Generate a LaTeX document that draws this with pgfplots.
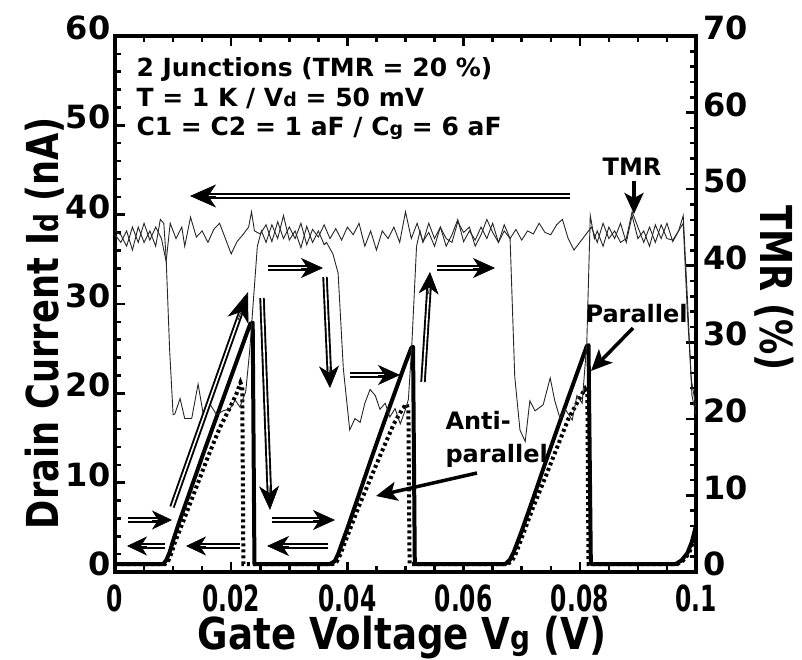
\documentclass[border=0pt]{standalone}
\usepackage{fontspec}
\setmainfont{DejaVu Sans}
\newfontfamily\condfont[FakeStretch=0.65]{DejaVu Sans}
\newfontfamily\labfontx[FakeStretch=0.845]{DejaVu Sans}
\newfontfamily\labfonty[FakeStretch=0.80]{DejaVu Sans}
\usepackage{pgfplots}
\pgfplotsset{compat=1.18}
\usetikzlibrary{arrows.meta,calc}

\tikzset{dbl/.style={draw=black,double=white,line width=1.9pt,double distance=1.6pt}}
% double arrow: #1 tail, #2 tip, #3 head length, #4 head width
\newcommand{\darrow}[4]{%
  \draw[dbl,shorten >=#3*0.6] #1 -- #2;
  \draw[line width=0.6pt,-{Stealth[length=#3,width=#4,inset=#3*0.3]}] ($#2!#3!#1$) -- #2;}
\newcommand{\sarrow}[2]{%
  \draw[line width=3.5pt,-{Stealth[length=21pt,width=19pt,inset=5pt]}] #1 -- #2;}

\pgfplotsset{box/.style={at={(115pt,95pt)}, anchor=south west, scale only axis,
  width=581pt, height=536pt, xmin=0, xmax=0.1, clip=false,
  /pgf/number format/assume math mode=true}}

\begin{document}
\begin{tikzpicture}
\path[use as bounding box] (0,0) rectangle (802pt,659pt);

% ---- frame with ticks (drawn 8px lower, as in the reference) ----
\begin{axis}[box, at={(115pt,87pt)}, ymin=0, ymax=60,
  axis line style={line width=4pt},
  every tick/.style={black,line width=2.5pt},
  major tick length=10pt, minor tick length=6pt,
  xtick={0,0.02,0.04,0.06,0.08,0.1},
  xticklabels={0,0.02,0.04,0.06,0.08,0.1},
  minor x tick num=3,
  ytick={0,10,20,30,40,50,60}, yticklabels={},
  minor y tick num=4,
  xtick pos=both, ytick pos=left,
  xticklabel style={font=\condfont\fontsize{36}{36}\selectfont\bfseries, yshift=-9pt},
]
\end{axis}
\begin{axis}[box, at={(115pt,87pt)}, ymin=0, ymax=70,
  axis x line=none, axis y line*=right,
  axis line style={line width=4pt,-},
  every tick/.style={black,line width=2.5pt},
  major tick length=10pt, minor tick length=6pt,
  ytick={0,10,20,30,40,50,60,70}, yticklabels={},
  minor y tick num=4,
]
\end{axis}

% ---- current data + left tick labels ----
\begin{axis}[box, ymin=0, ymax=60,
  axis line style={draw=none}, xtick=\empty,
  ytick={0,10,20,30,40,50,60},
  yticklabels={0,10,20,30,40,50,60},
  major tick length=0pt, ytick pos=left,
  yticklabel style={font=\fontsize{32}{32}\selectfont\bfseries, xshift=-1pt},
]
% Parallel
\addplot[black, line width=4pt, line join=round] coordinates {
(0,0)(0.0083,0)(0.0088,0.4)(0.0094,1.3)(0.0100,2.6)(0.0110,4.6)(0.0130,8.3)(0.0150,12.0)(0.0170,15.6)(0.0190,19.2)(0.0210,22.8)(0.0225,25.5)(0.0233,26.9)(0.0237,27.0)(0.0240,0)
(0.0370,0)(0.0378,0.3)(0.0384,1.1)(0.0390,2.2)(0.0400,4.0)(0.0420,7.8)(0.0440,11.6)(0.0460,15.3)(0.0480,18.9)(0.0500,22.5)(0.0510,24.2)(0.0513,24.3)(0.0516,0)
(0.0672,0)(0.0680,0.5)(0.0686,1.3)(0.0692,2.3)(0.0700,3.7)(0.0720,7.4)(0.0740,11.2)(0.0760,14.9)(0.0780,18.6)(0.0800,22.2)(0.0812,24.4)(0.0815,24.5)(0.0819,0)
(0.0965,0)(0.0975,0.4)(0.0985,1.2)(0.0993,2.5)(0.1,4.3)};
% Anti-parallel
\addplot[black, line width=4pt, dash pattern=on 3pt off 3pt] coordinates {
(0,0)(0.0086,0)(0.0092,0.4)(0.0097,1.2)(0.0103,2.4)(0.0120,5.2)(0.0140,8.6)(0.0160,12.0)(0.0180,15.2)(0.0200,17.8)(0.0210,19.2)(0.0216,20.3)(0.0219,19.8)(0.0221,0)
(0.0375,0)(0.0382,0.3)(0.0388,1.1)(0.0395,2.3)(0.0420,6.5)(0.0440,9.6)(0.0460,12.7)(0.0480,15.7)(0.0495,17.4)(0.0502,17.9)(0.0505,17.2)(0.0507,0)
(0.0675,0)(0.0683,0.3)(0.0690,1.2)(0.0697,2.4)(0.0720,6.4)(0.0740,9.6)(0.0760,12.9)(0.0780,16.2)(0.0800,18.6)(0.0809,19.6)(0.0813,19.1)(0.0815,0)
(0.0968,0)(0.0978,0.4)(0.0988,1.2)(0.1,3.5)};
\end{axis}

% ---- TMR data + right tick labels ----
\begin{axis}[box, ymin=0, ymax=70,
  axis x line=none, axis y line*=right,
  axis line style={draw=none},
  ytick={0,10,20,30,40,50,60,70},
  yticklabels={0,10,20,30,40,50,60,70},
  major tick length=0pt,
  yticklabel style={font=\fontsize{32}{32}\selectfont\bfseries, xshift=4pt},
]
\addplot[black!85, line width=0.9pt] coordinates {
(0,43)(0.001,42)(0.002,43.5)(0.003,41)(0.004,44)(0.005,42)(0.006,43.5)(0.007,41.5)(0.0078,45)(0.0084,44.5)(0.0088,40)(0.0094,28)(0.0100,19.5)(0.0103,19.6)(0.0112,21.6)(0.0120,19.0)(0.0132,19.0)(0.0143,23.5)(0.0152,19.5)(0.0164,20.8)(0.0175,19.5)(0.0186,20.0)(0.0198,20.3)(0.0207,21.4)(0.0215,20.5)(0.0225,22.5)(0.0232,28)(0.0245,41.5)(0.0252,43.5)
(0.026,42)(0.027,44.3)(0.028,42.5)(0.029,45.5)(0.030,42.3)(0.031,43.5)(0.032,41.3)(0.033,44.1)(0.034,42)(0.035,43.5)(0.036,41.7)(0.0364,42)(0.0375,40.5)(0.0384,38)(0.0393,25.5)(0.0404,17.5)(0.0413,19)(0.0422,18.5)(0.0430,21)(0.0439,22.8)(0.0448,22)(0.0456,20.2)(0.0465,21)(0.0473,19.2)(0.0482,20.3)(0.0491,18.3)(0.0500,20.2)(0.0505,21.5)(0.0511,28.8)(0.0519,41.5)(0.0525,43.5)
(0.053,42)(0.054,44.5)(0.055,42.5)(0.056,44)(0.057,41.5)(0.058,43)(0.059,45)(0.060,42.1)(0.061,43.5)(0.062,42.3)(0.063,44)(0.064,42.5)(0.065,44.5)(0.066,42)(0.067,43.5)(0.068,42.5)(0.0688,24.5)(0.0697,17.5)(0.0706,16)(0.0714,21.3)(0.0723,20)(0.0737,20.8)(0.0749,24.3)(0.0757,21.3)(0.0766,19)(0.0775,20.2)(0.0787,18.8)(0.0795,22)(0.0804,21)(0.0812,28.8)(0.0818,45.5)
(0.0825,42.5)(0.083,43.5)(0.084,41.5)(0.085,44)(0.086,42.5)(0.087,44.5)(0.088,42)(0.089,45.5)(0.090,42.5)(0.091,43.5)(0.092,41.5)(0.093,44.3)(0.094,42.5)(0.095,44.5)(0.096,42.1)(0.097,43.5)(0.0978,44.5)(0.0985,33)(0.0992,24)(0.1,20.5)};
\addplot[black!85, line width=0.9pt] coordinates {
(0,43.5)(0.001,43)(0.002,41.5)(0.003,44)(0.004,42)(0.005,44.5)(0.006,42.3)(0.007,44)(0.008,42.5)(0.0088,39.5)(0.0095,44.5)(0.0105,42.5)(0.0115,44)(0.012,41.5)(0.013,45.3)(0.014,42.7)(0.015,43.5)(0.016,42)(0.017,43.7)(0.018,44.5)(0.019,42.5)(0.020,40.5)(0.021,42.1)(0.022,43)(0.023,44)(0.0235,46)(0.024,43.5)(0.025,43.1)(0.026,44.3)(0.027,42.1)(0.028,44.7)(0.029,42.5)(0.030,44)(0.031,42.5)(0.032,44.5)(0.033,41.7)(0.034,43.7)(0.035,42.7)(0.036,44.3)(0.037,42.5)(0.038,43.8)(0.039,42.3)(0.040,44)(0.041,43)(0.042,44.5)(0.043,41.5)(0.044,43.5)(0.045,41)(0.046,43.5)(0.047,42.5)(0.048,44)(0.049,42)(0.050,46)(0.051,42.5)(0.052,44.5)(0.053,42.1)(0.054,43.3)(0.055,41.5)(0.056,44)(0.057,42.5)(0.058,42)(0.059,44.7)(0.060,43.3)(0.061,44)(0.062,41.5)(0.063,43)(0.064,45)(0.065,43.3)(0.066,42)(0.067,44.3)(0.068,42.5)(0.069,43.7)(0.070,42.3)(0.071,43.5)(0.072,43.1)(0.073,44.5)(0.074,43.3)(0.075,43)(0.076,44.3)(0.077,45)(0.078,42.5)(0.079,41)(0.080,42)(0.081,43)(0.082,44)(0.083,42)(0.084,44.5)(0.085,42.5)(0.086,43.5)(0.087,42)(0.088,42.5)(0.089,46)(0.090,44)(0.091,42)(0.092,44)(0.093,42)(0.094,44.3)(0.095,42.5)(0.096,42.3)(0.097,43.5)(0.0978,45.5)(0.0985,35)(0.0993,22)(0.1,19.5)};
\end{axis}

\begin{scope}[x=1pt,y=-1pt,yshift=659pt]
% axis labels
\node[rotate=90, font=\labfonty\fontsize{44}{44}\selectfont\bfseries] at (45,323) {Drain Current I{\fontsize{33}{33}\selectfont d} (nA)};
\node[rotate=-90, font=\labfonty\fontsize{44}{44}\selectfont\bfseries] at (774,288) {TMR (\%)};
\node[font=\labfontx\fontsize{44}{44}\selectfont\bfseries] at (402,638) {Gate Voltage V{\fontsize{33}{33}\selectfont g} (V)};
% info text
\node[anchor=base west, font=\fontsize{25}{25}\selectfont\bfseries] at (133,77) {2 Junctions (TMR = 20 \%)};
\node[anchor=base west, font=\fontsize{25}{25}\selectfont\bfseries] at (133,107) {T = 1 K / V{\fontsize{19}{19}\selectfont d} = 50 mV};
\node[anchor=base west, font=\fontsize{25}{25}\selectfont\bfseries] at (133,136) {C1 = C2 = 1 aF / C{\fontsize{19}{19}\selectfont g} = 6 aF};
\node[anchor=base, font=\fontsize{24}{24}\selectfont\bfseries] at (632,176) {TMR};
\node[anchor=base west, font=\fontsize{24}{24}\selectfont\bfseries] at (582,323) {Parallel};
\node[anchor=base west, font=\fontsize{24}{24}\selectfont\bfseries] at (442,429) {Anti-};
\node[anchor=base west, font=\fontsize{24}{24}\selectfont\bfseries] at (442,462) {parallel};
% pointers
\sarrow{(634,181)}{(634,214)}
\sarrow{(633,328)}{(591,371)}
\sarrow{(477,473)}{(376,496)}
% double arrows
\darrow{(570,196)}{(190,196)}{26pt}{23pt}
\darrow{(268,268)}{(323,268)}{22pt}{20pt}
\darrow{(325,277)}{(330,388)}{22pt}{20pt}
\darrow{(437,268)}{(495,268)}{22pt}{20pt}
\darrow{(350,375)}{(400,375)}{22pt}{20pt}
\darrow{(423,382)}{(430,272)}{22pt}{20pt}
\darrow{(172,507)}{(248,292)}{30pt}{22pt}
\darrow{(262,298)}{(270,510)}{24pt}{20pt}
\darrow{(128,520)}{(172,520)}{20pt}{19pt}
\darrow{(165,546)}{(127,546)}{20pt}{19pt}
\darrow{(240,546)}{(186,546)}{20pt}{19pt}
\darrow{(272,520)}{(335,520)}{22pt}{20pt}
\darrow{(328,546)}{(267,546)}{22pt}{20pt}
\end{scope}
\end{tikzpicture}
\end{document}
